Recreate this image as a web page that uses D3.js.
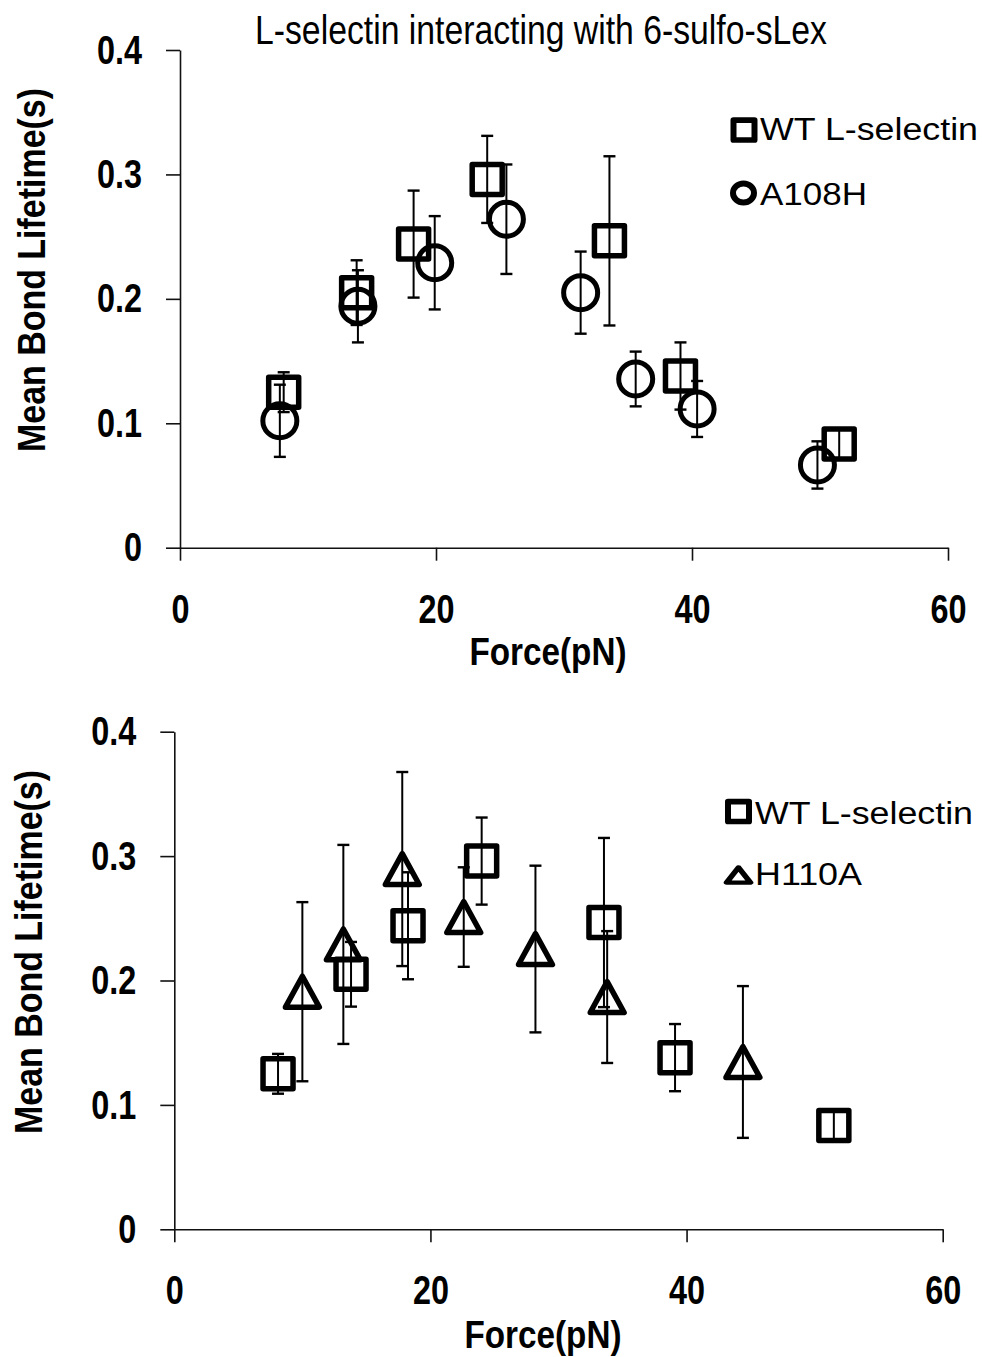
<!DOCTYPE html>
<html><head><meta charset="utf-8">
<script src="https://cdn.jsdelivr.net/npm/d3@7"></script>
<style>
html,body{margin:0;padding:0;background:#fff;}
svg{display:block;}
</style></head>
<body>
<script>
// ---- data ----
const xTicks = [0, 20, 40, 60];
const yTicks = [0, 0.1, 0.2, 0.3, 0.4];
const chartTitle = "L-selectin interacting with 6-sulfo-sLex";
const xTitle = "Force(pN)";
const yTitle = "Mean Bond Lifetime(s)";

const wtName = "WT L-selectin";
const wtForce = [8.1, 13.8, 18.25, 24.0, 33.55, 39.1, 51.5];
const wtLife  = [0.125, 0.205, 0.244, 0.296, 0.2466, 0.138, 0.0834];
const wtErr   = [0.016, 0.026, 0.043, 0.035, 0.068, 0.027, 0.012];

const a108hName = "A108H";
const a108hForce = [7.8, 13.9, 19.9, 25.5, 31.3, 35.6, 40.4, 49.8];
const a108hLife  = [0.102, 0.194, 0.229, 0.264, 0.205, 0.1356, 0.1115, 0.0665];
const a108hErr   = [0.029, 0.029, 0.0375, 0.044, 0.033, 0.022, 0.0225, 0.019];

const h110aName = "H110A";
const h110aForce = [10.0, 13.2, 17.8, 22.6, 28.2, 33.8, 44.4];
const h110aLife  = [0.191, 0.229, 0.2896, 0.251, 0.2253, 0.1867, 0.1345];
const h110aErr   = [0.072, 0.08, 0.078, 0.04, 0.067, 0.053, 0.061];

function series(name, shape, xs, ys, es) {
  return { name, shape, pts: xs.map((x, i) => ({ x, y: ys[i], e: es[i] })) };
}
const wt = series(wtName, "square", wtForce, wtLife, wtErr);
const a108h = series(a108hName, "circle", a108hForce, a108hLife, a108hErr);
const h110a = series(h110aName, "triangle", h110aForce, h110aLife, h110aErr);

// ---- layout ----
const W = 982, H = 1357;
const sans = "'Liberation Sans',Arial,sans-serif";
const ink = "#000";

const svg = d3.select("body").append("svg").attr("width", W).attr("height", H);

// condense text horizontally (narrow font look)
function squeeze(sel, factor) {
  sel.each(function () {
    const w = this.getComputedTextLength();
    d3.select(this).attr("textLength", w * factor).attr("lengthAdjust", "spacingAndGlyphs");
  });
}
function fitTo(sel, len) {
  sel.attr("textLength", len).attr("lengthAdjust", "spacingAndGlyphs");
}

const panels = [
  { xr: [180, 948], yr: [547.7, 50], series: [wt, a108h], title: chartTitle,
    yTitlePos: [45, 270], xTitlePos: [548, 665],
    legend: [{ cx: 744, cy: 130, tx: 760, ty: 140, tl: 218 }, { cx: 743.5, cy: 193, tx: 760, ty: 205, tl: 107 }] },
  { xr: [174.3, 942.7], yr: [1229.3, 731.7], series: [wt, h110a], title: null,
    yTitlePos: [42, 952], xTitlePos: [543, 1348],
    legend: [{ cx: 738.5, cy: 811.5, tx: 755, ty: 824, tl: 218 }, { cx: 738.5, cy: 875, tx: 755, ty: 885, tl: 107 }] }
];

function markerPath(shape, size) {
  const s = size / 2;
  if (shape === "square") return `M${-s},${-s}H${s}V${s}H${-s}Z`;
  if (shape === "triangle") { const h = s * 1.03; return `M0,${-h}L${s * 1.13},${h}L${-s * 1.13},${h}Z`; }
  return null;
}

function drawMarker(g, shape, cx, cy, big) {
  if (shape === "circle") {
    if (big) g.append("circle").attr("cx", cx).attr("cy", cy).attr("r", 17)
      .attr("fill", "none").attr("stroke", ink).attr("stroke-width", 5);
    else g.append("ellipse").attr("cx", cx).attr("cy", cy).attr("rx", 10.5).attr("ry", 9.5)
      .attr("fill", "none").attr("stroke", ink).attr("stroke-width", 6);
  } else {
    const size = big ? 30 : 21;
    g.append("path").attr("transform", `translate(${cx},${cy})` + (big ? "" : (shape === "square" ? " scale(1,0.95)" : " scale(1,0.7)")))
      .attr("d", markerPath(shape, size))
      .attr("fill", "none").attr("stroke", ink)
      .attr("stroke-width", big ? 5.5 : 6).attr("stroke-linejoin", "round");
  }
}

panels.forEach(p => {
  const x = d3.scaleLinear().domain([0, 60]).range(p.xr);
  const y = d3.scaleLinear().domain([0, 0.4]).range(p.yr);
  const g = svg.append("g");

  // axes
  const ax = g.append("g").attr("transform", `translate(0,${p.yr[0]})`)
    .call(d3.axisBottom(x).tickValues(xTicks).tickSize(13).tickSizeOuter(0).tickPadding(33).tickFormat(d3.format("d")));
  const ay = g.append("g").attr("transform", `translate(${p.xr[0]},0)`)
    .call(d3.axisLeft(y).tickValues(yTicks).tickSize(14).tickSizeOuter(0).tickPadding(24)
      .tickFormat(d => d === 0 ? "0" : d3.format(".1f")(d)));
  [ax, ay].forEach(a => {
    a.selectAll("path,line").attr("stroke", "#111").attr("stroke-width", 1.6);
    a.selectAll("text").attr("font-family", sans).attr("font-weight", "bold")
      .attr("font-size", 41).attr("fill", ink);
    squeeze(a.selectAll("text"), 0.79);
  });

  // axis titles
  fitTo(g.append("text").attr("x", p.xTitlePos[0]).attr("y", p.xTitlePos[1])
    .attr("text-anchor", "middle").attr("font-family", sans).attr("font-weight", "bold")
    .attr("font-size", 39).attr("fill", ink).text(xTitle), 157);
  fitTo(g.append("text").attr("transform", `translate(${p.yTitlePos[0]},${p.yTitlePos[1]}) rotate(-90)`)
    .attr("text-anchor", "middle").attr("font-family", sans).attr("font-weight", "bold")
    .attr("font-size", 39).attr("fill", ink).text(yTitle), 364);

  if (p.title) {
    fitTo(g.append("text").attr("x", 541).attr("y", 44).attr("text-anchor", "middle")
      .attr("font-family", sans).attr("font-size", 40).attr("fill", ink).text(p.title), 572);
  }

  // series
  p.series.forEach(s => {
    const sg = g.append("g");
    s.pts.forEach(d => {
      const cx = x(d.x), cy = y(d.y);
      const yt = y(d.y + d.e), yb = y(d.y - d.e);
      sg.append("line").attr("x1", cx).attr("x2", cx).attr("y1", yt).attr("y2", yb)
        .attr("stroke", ink).attr("stroke-width", 2);
      [yt, yb].forEach(yy => sg.append("line").attr("x1", cx - 6).attr("x2", cx + 6)
        .attr("y1", yy).attr("y2", yy).attr("stroke", ink).attr("stroke-width", 2.4));
      drawMarker(sg, s.shape, cx, cy, true);
    });
  });

  // legend
  p.series.forEach((s, i) => {
    const L = p.legend[i];
    drawMarker(g, s.shape, L.cx, L.cy, false);
    fitTo(g.append("text").attr("x", L.tx).attr("y", L.ty)
      .attr("font-family", sans).attr("font-size", 31).attr("fill", ink).text(s.name), L.tl);
  });
});
</script>
</body></html>
